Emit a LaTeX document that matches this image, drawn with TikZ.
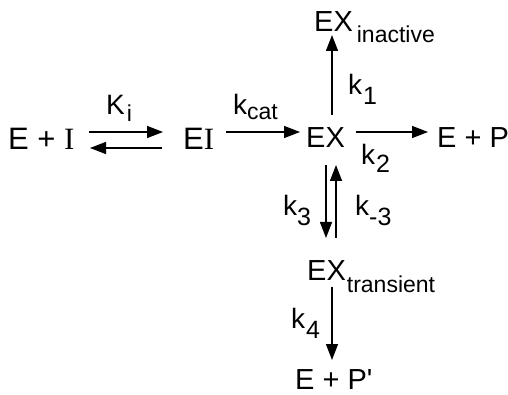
\documentclass[tikz,border=0pt]{standalone}
\usepackage{fontspec}
\setmainfont{Liberation Sans}
\newfontfamily\romanI{Liberation Serif}
\usetikzlibrary{arrows.meta}
\newcommand{\lowsub}[2][10pt]{\raisebox{-#1}{\fontsize{23}{25}\selectfont #2}}
\newcommand{\lownum}[2][10pt]{\raisebox{-#1}{\fontsize{25}{27}\selectfont #2}}
\tikzset{
  species/.style={inner sep=0pt, anchor=base west, font=\fontsize{29}{32}\selectfont},
  bigspecies/.style={species, font=\fontsize{31}{34}\selectfont},
  rate/.style={inner sep=0pt, anchor=base west, font=\fontsize{28}{31}\selectfont},
  rxn/.style={-{Triangle[length=16pt,width=12pt]}, line width=1.4pt},
}
\begin{document}
\begin{tikzpicture}[x=1pt, y=-1pt]
    \useasboundingbox (0,0) rectangle (508,395);
    % species
    \node[bigspecies] (ei0) at (8,150) {E + {\romanI I}};
    \node[bigspecies] (ei) at (183,150) {E{\romanI I}};
    \node[species] (ex) at (306,148) {EX};
    \node[species] (ep) at (437,148) {E + P};
    \node[species] (exi) at (314,32) {EX\hspace{4pt}\lowsub[11pt]{inactive}};
    \node[species] (ext) at (307,280) {EX\hspace{1pt}\lowsub[12pt]{transient}};
    \node[species] (epp) at (295,389) {E + P\textquotesingle};
    % rate constants
    \node[rate] (ki) at (106,115) {K\hspace{2pt}\lowsub[7pt]{i}};
    \node[rate] (kcat) at (233,115) {k\lowsub[5pt]{cat}};
    \node[rate] (k1) at (348,95) {k\hspace{1pt}\lownum{1}};
    \node[rate] (k2) at (361,165) {k\hspace{1pt}\lownum[8pt]{2}};
    \node[rate] (k3) at (283,215) {k\lownum{3}};
    \node[rate] (km3) at (355,215) {k\lownum{-3}};
    \node[rate] (k4) at (291,328) {k\hspace{1pt}\lownum{4}};
    % equilibrium E + I / EI
    \draw[rxn] ([shift={(81pt,18pt)}]ei0.base west) -- ([shift={(-20pt,18pt)}]ei.base west);
    \draw[rxn] ([shift={(-21pt,2pt)}]ei.base west) -- ([shift={(82pt,2pt)}]ei0.base west);
    % EI -> EX
    \draw[rxn] ([shift={(43pt,18pt)}]ei.base west) -- ([shift={(-6pt,16pt)}]ex.base west);
    % EX -> EX inactive, EX -> E + P
    \draw[rxn] ([shift={(26pt,33pt)}]ex.base west) -- ([shift={(18pt,-3pt)}]exi.base west);
    \draw[rxn] ([shift={(50pt,16pt)}]ex.base west) -- ([shift={(-9pt,16pt)}]ep.base west);
    % EX <-> EX transient
    \draw[rxn] ([shift={(20pt,-17pt)}]ex.base west) -- ([shift={(19pt,42pt)}]ext.base west);
    \draw[rxn] ([shift={(29pt,42pt)}]ext.base west) -- ([shift={(30pt,-17pt)}]ex.base west);
    % EX transient -> E + P'
    \draw[rxn] ([shift={(25pt,-7pt)}]ext.base west) -- ([shift={(37pt,29pt)}]epp.base west);
\end{tikzpicture}
\end{document}
